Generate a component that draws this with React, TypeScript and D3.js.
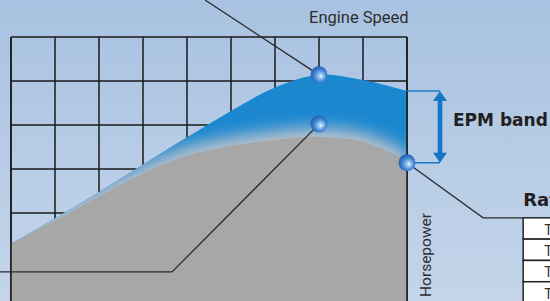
import React from "react";
import * as d3 from "d3";

const W = 550;
const H = 301;

// grid steps: engine speed (columns) and horsepower (rows)
const speedSteps = [0, 1, 2, 3, 4, 5, 6, 7, 8, 9];
const powerSteps = [0, 1, 2, 3, 4, 5, 6];

// horsepower with EPM (top of blue band) and standard curve (top of gray)
const epmPower = [1.3, 1.88, 2.48, 3.1, 3.72, 4.32, 4.85, 5.14, 5.02, 4.77];
const basePower = [1.3, 1.83, 2.37, 2.9, 3.3, 3.52, 3.66, 3.73, 3.62, 3.2];

// marker balls (speed, horsepower)
const markers = [
  { s: 7, p: 5.14 },
  { s: 7, p: 4.02 },
  { s: 9, p: 3.14 },
];

// leader lines from the markers, in chart units
const leaders = [
  [[7, 5.14], [4.41, 6.84]],
  [[7, 4.02], [3.66, 0.66], [-0.25, 0.66]],
  [[9, 3.14], [10.73, 1.89], [11.64, 1.89]],
];

const tableTitle = "Rated Speed";
const tableRows = ["Tier 1", "Tier 2", "Tier 3", "Tier 4"];

const App = () => {
  const x = d3.scaleLinear().domain([0, 9]).range([11, 407]);
  const y = d3.scaleLinear().domain([0, 6]).range([301, 37]);

  const area = (vals: number[], shift = 0) =>
    d3
      .area<number>()
      .x((_, i) => x(speedSteps[i]))
      .y0(H + 20)
      .y1((d) => y(d) + shift)
      .curve(d3.curveCatmullRom)(vals) as string;

  const line = d3
    .line<number[]>()
    .x((d) => x(d[0]))
    .y((d) => y(d[1]));

  const epmPath = area(epmPower);
  const basePath = area(basePower);
  const glowPath = area(basePower, -9);

  // EPM band arrow
  const ax = x(9.75);
  const aTop = y(epmPower[epmPower.length - 1]);
  const aBot = y(markers[2].p);

  const tx = x(11.64);
  const rowH = 21.3;

  return (
    <svg
      width={W}
      height={H}
      style={{ position: "absolute", left: 0, top: 0, display: "block" }}
    >
      <defs>
        <linearGradient id="bg" x1="0" y1="0" x2="0" y2="1">
          <stop offset="0" stopColor="#a8c2e1" />
          <stop offset="1" stopColor="#c4d5ea" />
        </linearGradient>
        <radialGradient id="ball" cx="0.55" cy="0.55" r="0.6" fx="0.62" fy="0.58">
          <stop offset="0" stopColor="#f4f9ff" />
          <stop offset="0.25" stopColor="#90c0ec" />
          <stop offset="0.6" stopColor="#3d84d2" />
          <stop offset="1" stopColor="#1d56a6" />
        </radialGradient>
        <filter id="blur" x="-20%" y="-50%" width="140%" height="200%">
          <feGaussianBlur stdDeviation="8" />
        </filter>
        <clipPath id="epmClip">
          <path d={epmPath} />
        </clipPath>
      </defs>

      <rect width={W} height={H} fill="url(#bg)" />

      {/* grid */}
      <g stroke="#1a1a1a" strokeWidth={1.5}>
        {speedSteps.map((s) => (
          <line key={"v" + s} x1={x(s)} x2={x(s)} y1={y(6)} y2={y(0)} />
        ))}
        {powerSteps.map((p) => (
          <line key={"h" + p} x1={x(0)} x2={x(9)} y1={y(p)} y2={y(p)} />
        ))}
      </g>

      {/* EPM band */}
      <path d={epmPath} fill="#1b87cf" />
      <g clipPath="url(#epmClip)">
        <path d={glowPath} fill="#b9c2cc" filter="url(#blur)" />
      </g>
      <path d={basePath} fill="#a7a7a7" />

      {/* chart border on top */}
      <g stroke="#1a1a1a" strokeWidth={1.5}>
        <line x1={x(0)} x2={x(0)} y1={y(6)} y2={H} />
        <line x1={x(9)} x2={x(9)} y1={y(6)} y2={H} />
      </g>

      {/* band arrow */}
      <g stroke="#1a7cc8" strokeWidth={1.5}>
        <line x1={x(9)} x2={ax} y1={aTop} y2={aTop} />
        <line x1={x(9)} x2={ax} y1={aBot} y2={aBot} />
      </g>
      <g fill="#1676c4">
        <rect x={ax - 2.3} y={aTop + 8} width={4.6} height={aBot - aTop - 16} />
        <polygon points={`${ax},${aTop} ${ax - 7},${aTop + 10} ${ax + 7},${aTop + 10}`} />
        <polygon points={`${ax},${aBot} ${ax - 7},${aBot - 10} ${ax + 7},${aBot - 10}`} />
      </g>

      {/* table */}
      <text
        x={tx}
        y={206}
        fontFamily="DejaVu Sans"
        fontWeight="bold"
        fontSize={18}
        fill="#231f20"
      >
        {tableTitle}
      </text>
      {tableRows.map((r, i) => (
        <g key={r}>
          <rect
            x={tx}
            y={y(1.89) + i * rowH}
            width={80}
            height={rowH}
            fill="#ffffff"
            stroke="#222"
            strokeWidth={1.5}
          />
          <text
            x={tx + 21}
            y={y(1.89) + i * rowH + 17}
            fontFamily="Roboto"
            fontSize={14}
            fill="#333"
          >
            {r}
          </text>
        </g>
      ))}

      {/* leaders */}
      {leaders.map((l, i) => (
        <path key={i} d={line(l) as string} fill="none" stroke="#2a2a2a" strokeWidth={1.3} />
      ))}

      {markers.map((m, i) => (
        <circle key={i} cx={x(m.s)} cy={y(m.p)} r={8.5} fill="url(#ball)" />
      ))}

      {/* labels */}
      <text x={309} y={23} fontFamily="Roboto" fontSize={16.5} fill="#2e2e2e">
        Engine Speed
      </text>
      <text
        transform={`translate(431,297) rotate(-90)`}
        fontFamily="Roboto"
        fontSize={15.5}
        fill="#2e2e2e"
      >
        Horsepower
      </text>
      <text
        x={453}
        y={126}
        fontFamily="DejaVu Sans"
        fontWeight="bold"
        fontSize={17}
        fill="#231f20"
      >
        EPM band
      </text>
    </svg>
  );
};

export default App;
